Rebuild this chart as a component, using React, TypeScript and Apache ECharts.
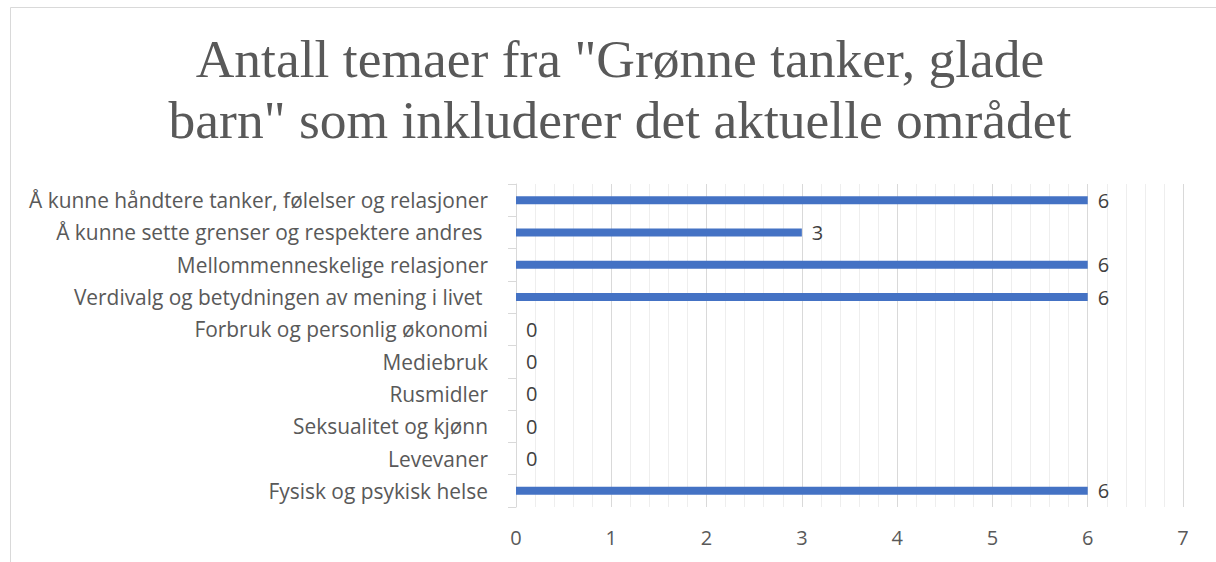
import React, { useEffect, useRef } from "react";
import * as echarts from "echarts";

const categories = [
  "Å kunne håndtere tanker, følelser og relasjoner",
  "Å kunne sette grenser og respektere andres ",
  "Mellommenneskelige relasjoner",
  "Verdivalg og betydningen av mening i livet ",
  "Forbruk og personlig økonomi",
  "Mediebruk",
  "Rusmidler",
  "Seksualitet og kjønn",
  "Levevaner",
  "Fysisk og psykisk helse",
];
const values = [6, 3, 6, 6, 0, 0, 0, 0, 0, 6];
const titleText = 'Antall temaer fra "Grønne tanker, glade\nbarn" som inkluderer det aktuelle området';

export default function App() {
  const ref = useRef<HTMLDivElement>(null);
  useEffect(() => {
    const chart = echarts.init(ref.current!, null, { renderer: "svg" });
    chart.setOption({
      animation: false,
      backgroundColor: "#ffffff",
      title: {
        text: titleText,
        left: 615,
        top: 23,
        textAlign: "center",
        textStyle: {
          fontFamily: "Liberation Serif",
          fontSize: 53.5,
          fontWeight: "normal",
          color: "#595959",
          lineHeight: 61,
        },
      },
      graphic: [
        {
          type: "rect",
          shape: { x: 10.5, y: 7.5, width: 1300, height: 700 },
          style: { fill: "none", stroke: "#d9d9d9", lineWidth: 1 },
          silent: true,
          z: -1,
        },
      ],
      grid: { left: 516, right: 33, top: 184, bottom: 55, containLabel: false },
      xAxis: {
        type: "value",
        min: 0,
        max: 7,
        interval: 1,
        axisLine: { show: false },
        axisTick: { show: false },
        axisLabel: {
          fontFamily: "Open Sans",
          fontSize: 20,
          color: "#595959",
          margin: 20,
        },
        splitLine: { show: true, lineStyle: { color: "#d9d9d9", width: 1 } },
        minorTick: { show: false, splitNumber: 5 },
        minorSplitLine: { show: true, lineStyle: { color: "#eeeeee", width: 1 } },
      },
      yAxis: {
        type: "category",
        data: categories,
        inverse: true,
        axisLine: { show: true, lineStyle: { color: "#d9d9d9" } },
        axisTick: { show: true, length: 8, lineStyle: { color: "#d9d9d9" } },
        axisLabel: {
          fontFamily: "Open Sans",
          fontSize: 20.9,
          color: "#595959",
          margin: 28,
        },
      },
      series: [
        {
          type: "bar",
          data: values,
          barWidth: 8,
          itemStyle: { color: "#4472C4" },
          label: {
            show: true,
            position: "right",
            distance: 10,
            fontFamily: "Open Sans",
            fontSize: 20,
            color: "#404040",
          },
        },
      ],
    });
    return () => chart.dispose();
  }, []);
  return (
    <div
      ref={ref}
      style={{ position: "absolute", left: 0, top: 0, width: 1216, height: 562 }}
    />
  );
}
